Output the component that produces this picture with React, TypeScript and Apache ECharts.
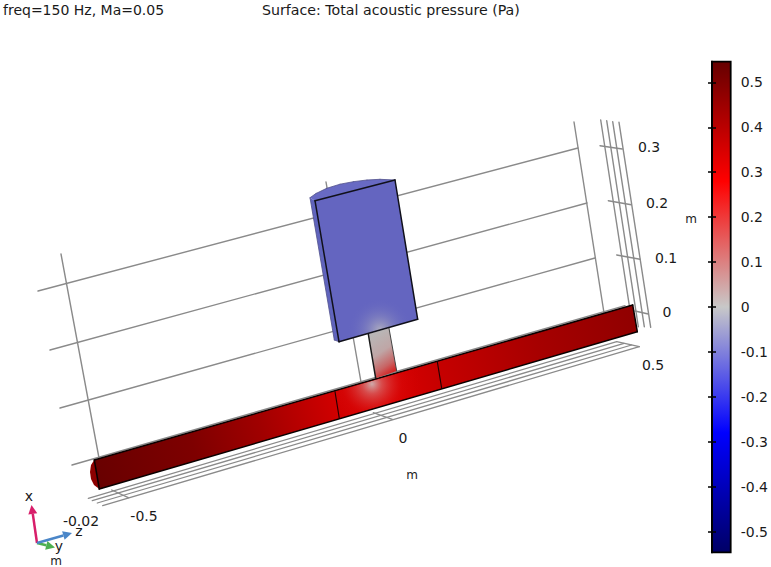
import React, { useEffect, useRef } from "react";
import * as echarts from "echarts";

const WIDTH = 771;
const HEIGHT = 567;

const backWallLines = [
  [38, 291, 578, 148],
  [50, 350, 587, 203],
  [60, 408, 595, 258],
  [72, 465, 625, 305.6],
  [61, 254, 99, 458],
  [574, 122, 604, 313],
  [326, 182, 361, 382],
];
const sideLadderLines = [
  [600.7, 120, 632.3, 325],
  [606.7, 120.7, 638.3, 326.7],
  [612.7, 121.7, 644.3, 326.7],
  [619, 122.3, 650.7, 327.3],
  [600, 145.7, 622.3, 149],
  [608.3, 200.7, 631.3, 204.7],
  [616.7, 255, 640, 259.3],
  [635, 311, 648.3, 314],
];
const floorLadderLines = [
  [88.3, 498.3, 616.7, 341.7],
  [92.3, 500.7, 624, 343.4],
  [97.3, 503, 631.6, 345],
  [102.7, 505.7, 639.3, 346.7],
  [616.7, 341.7, 639.3, 346.7],
  [111.7, 490, 128.3, 497.7],
  [373.3, 412.7, 392.3, 419.3],
];

const ductCap = [[94.3, 460], [91, 465], [90, 472], [91, 479], [94, 485], [99.3, 489]];
const ductBody = [[94.3, 460], [632.7, 305], [637.3, 331.7], [99.3, 489]];
const ductMiddle = [[335, 391.7], [437.3, 361.7], [441.7, 388.3], [339.3, 418.3]];
const neck = [[368.3, 334], [389, 328.3], [396.7, 371], [375.7, 378.3]];
const cylinderSide = [[310, 197.7], [315, 200.7], [339, 341.7], [334.3, 340]];
const cylinderTop = [[310, 197.7], [316, 193.5], [326.7, 188.3], [340, 184.2], [353.3, 181.7], [367, 180], [380, 179.3], [395, 180], [315, 200.7]];
const cylinderFront = [[315, 200.7], [395, 180], [417.7, 319.3], [339, 341.7]];

const edgeLines = [
  [94.3, 460, 632.7, 305],
  [99.3, 489, 637.3, 331.7],
  [94.3, 460, 99.3, 489],
  [632.7, 305, 637.3, 331.7],
];
const sectionLines = [
  [335, 391.7, 339.3, 418.3],
  [437.3, 361.7, 441.7, 388.3],
];
const neckEdges = [
  [368.3, 334, 375.7, 378.3],
];
const neckSoftEdges = [
  [389, 328.3, 396.7, 371],
];
const cylinderEdges = [
  [315, 200.7, 395, 180],
  [395, 180, 417.7, 319.3],
  [417.7, 319.3, 339, 341.7],
  [339, 341.7, 315, 200.7],
];
const cylinderOutline = [
  [310, 197.7, 316, 193.5],
  [316, 193.5, 326.7, 188.3],
  [326.7, 188.3, 340, 184.2],
  [340, 184.2, 353.3, 181.7],
  [353.3, 181.7, 367, 180],
  [367, 180, 380, 179.3],
  [380, 179.3, 395, 180],
  [310, 197.7, 334.3, 340],
  [334.3, 340, 339, 341.7],
];

const ductPositions = [94, 193, 260, 335, 385, 440, 540, 637];
const ductColours = ["#680000", "#7e0000", "#a00000", "#d00000", "#dc0000", "#c60000", "#a60000", "#900000"];

const triadOrigin = [37, 543];
const triadTips = [[31.5, 505], [55, 547.5], [72, 533]];
const triadColours = ["#d81e6a", "#4caf50", "#4a86c8"];

const sceneLabels: [number, number, string][] = [
  [649, 147, "0.3"],
  [657, 203, "0.2"],
  [666, 258, "0.1"],
  [667, 312, "0"],
  [653, 365, "0.5"],
  [403, 438, "0"],
  [144, 516, "-0.5"],
  [81, 521, "-0.02"],
];
const unitLabels: [number, number, string][] = [
  [691, 219, "m"],
  [412, 475, "m"],
  [56, 561, "m"],
];
const triadLabels: [number, number, string][] = [
  [29, 496, "x"],
  [59, 546, "y"],
  [79, 531, "z"],
];

const titleLeft = "freq=150 Hz, Ma=0.05";
const titleRight = "Surface: Total acoustic pressure (Pa)";

const colourbarRange = [-0.546, 0.546];
const colourbarTicks = [-0.5, -0.4, -0.3, -0.2, -0.1, 0, 0.1, 0.2, 0.3, 0.4, 0.5];
const colourbarValues = [0.546, 0.28, 0, -0.28, -0.546];
const colourbarColours = ["#660000", "#ff0000", "#c8c8c8", "#0000ff", "#000066"];

const FONT = '"DejaVu Sans"';

const pts = (api: any, p: number[][]) => p.map((q) => api.coord(q));

function lineSeries(lines: number[][], color: string, width: number) {
  return {
    type: "custom",
    coordinateSystem: "cartesian2d",
    xAxisIndex: 0,
    yAxisIndex: 0,
    silent: true,
    data: lines.map((_, i) => [i, 0]),
    renderItem: (params: any, api: any) => {
      const [x1, y1, x2, y2] = lines[params.dataIndex];
      const a = api.coord([x1, y1]);
      const b = api.coord([x2, y2]);
      return {
        type: "line",
        shape: { x1: a[0], y1: a[1], x2: b[0], y2: b[1] },
        style: { stroke: color, lineWidth: width, fill: "none", lineCap: "round" },
      };
    },
  };
}

function polySeries(points: number[][], fill: any) {
  return {
    type: "custom",
    coordinateSystem: "cartesian2d",
    xAxisIndex: 0,
    yAxisIndex: 0,
    silent: true,
    data: [[0, 0]],
    renderItem: (_p: any, api: any) => ({
      type: "polygon",
      shape: { points: pts(api, points) },
      style: { fill, stroke: "none" },
    }),
  };
}

function textSeries(labels: [number, number, string][], size: number) {
  return {
    type: "custom",
    coordinateSystem: "cartesian2d",
    xAxisIndex: 0,
    yAxisIndex: 0,
    silent: true,
    data: labels.map((_, i) => [i, 0]),
    renderItem: (params: any, api: any) => {
      const [x, y, text] = labels[params.dataIndex];
      const c = api.coord([x, y]);
      return {
        type: "text",
        x: c[0],
        y: c[1],
        style: {
          text,
          fill: "#1a1a1a",
          fontFamily: FONT,
          fontSize: size,
          align: "center",
          verticalAlign: "middle",
        },
      };
    },
  };
}

function radial(x: number, y: number, r: number, stops: [number, string][]) {
  return {
    type: "radial",
    x,
    y,
    r,
    global: true,
    colorStops: stops.map(([offset, color]) => ({ offset, color })),
  };
}

function linear(x: number, y: number, x2: number, y2: number, stops: [number, string][]) {
  return {
    type: "linear",
    x,
    y,
    x2,
    y2,
    global: true,
    colorStops: stops.map(([offset, color]) => ({ offset, color })),
  };
}

const ductSpan = ductPositions[ductPositions.length - 1] - ductPositions[0];
const ductFill = linear(
  94, 475, 637, 318,
  ductPositions.map((p, i) => [(p - ductPositions[0]) / ductSpan, ductColours[i]] as [number, string])
);

function buildOption() {
  const top = colourbarRange[1];
  const span = colourbarRange[1] - colourbarRange[0];
  const barStops = colourbarValues.map((v, i) => ({
    offset: (top - v) / span,
    color: colourbarColours[i],
  }));
  const titleStyle = { fontFamily: FONT, fontSize: 14, fontWeight: "normal", color: "#1a1a1a" };

  return {
    animation: false,
    backgroundColor: "#ffffff",
    title: [
      { text: titleLeft, left: 3, top: 3, padding: 0, textStyle: titleStyle },
      { text: titleRight, left: 262, top: 3, padding: 0, textStyle: { ...titleStyle, fontSize: 14.2 } },
    ],
    grid: [
      { left: 0, top: 0, width: WIDTH, height: HEIGHT },
      { left: 712, top: 61.7, width: 21, height: 490.6 },
    ],
    xAxis: [
      { type: "value", gridIndex: 0, min: 0, max: WIDTH, show: false },
      { type: "value", gridIndex: 1, min: 0, max: 1, show: false },
    ],
    yAxis: [
      { type: "value", gridIndex: 0, min: 0, max: HEIGHT, inverse: true, show: false },
      {
        type: "value",
        gridIndex: 1,
        position: "right",
        min: colourbarRange[0],
        max: colourbarRange[1],
        axisLine: { show: true, lineStyle: { color: "#000", width: 1.8 } },
        axisTick: { show: true, inside: true, length: 4, lineStyle: { color: "#000", width: 1.5 }, customValues: colourbarTicks },
        axisLabel: {
          show: true,
          margin: 10,
          color: "#1a1a1a",
          fontFamily: FONT,
          fontSize: 14,
          customValues: colourbarTicks,
          formatter: (v: number) => String(Math.round(v * 10) / 10),
        },
        splitLine: { show: false },
        z: 5,
      },
      {
        type: "value",
        gridIndex: 1,
        position: "left",
        min: colourbarRange[0],
        max: colourbarRange[1],
        axisLine: { show: true, lineStyle: { color: "#000", width: 1.8 } },
        axisTick: { show: true, inside: true, length: 4, lineStyle: { color: "#000", width: 1.5 }, customValues: colourbarTicks },
        axisLabel: { show: false },
        splitLine: { show: false },
        z: 5,
      },
    ],
    series: [
      lineSeries(backWallLines, "#8a8a8a", 1.4),
      lineSeries(sideLadderLines, "#8a8a8a", 1.4),
      lineSeries(floorLadderLines, "#8a8a8a", 1.3),
      polySeries(ductCap, "#8c0000"),
      polySeries(ductBody, ductFill),
      polySeries(ductMiddle, radial(372, 384, 50, [
        [0, "rgba(205,190,190,0.9)"],
        [0.2, "rgba(214,120,120,0.62)"],
        [0.6, "rgba(220,25,25,0.2)"],
        [1, "rgba(220,0,0,0)"],
      ])),
      lineSeries(sectionLines, "#220000", 1.1),
      lineSeries(edgeLines, "#0a0000", 1.5),
      polySeries(neck, linear(370, 338, 395, 375, [
        [0, "#b9b6b6"],
        [0.4, "#bfa6a6"],
        [0.72, "#c86464"],
        [1, "#da0808"],
      ])),
      lineSeries(neckEdges, "#1a1a1a", 1.5),
      lineSeries(neckSoftEdges, "#444444", 1),
      polySeries(cylinderSide, "#6064bd"),
      polySeries(cylinderTop, "#686ac3"),
      polySeries(cylinderFront, "#6465c0"),
      polySeries(cylinderFront, radial(380, 330, 32, [
        [0, "rgba(186,184,192,0.85)"],
        [0.45, "rgba(150,150,190,0.4)"],
        [1, "rgba(100,101,192,0)"],
      ])),
      lineSeries(cylinderOutline, "#50508c", 0.8),
      lineSeries(cylinderEdges, "#10101a", 1.5),
      {
        type: "custom",
        coordinateSystem: "cartesian2d",
        xAxisIndex: 0,
        yAxisIndex: 0,
        silent: true,
        data: triadTips.map((_, i) => [i, 0]),
        renderItem: (params: any, api: any) => {
          const i = params.dataIndex;
          const o = api.coord(triadOrigin);
          const t = api.coord(triadTips[i]);
          const dx = t[0] - o[0];
          const dy = t[1] - o[1];
          const len = Math.hypot(dx, dy);
          const ux = dx / len;
          const uy = dy / len;
          const bx = t[0] - ux * 9;
          const by = t[1] - uy * 9;
          return {
            type: "group",
            children: [
              {
                type: "line",
                shape: { x1: o[0], y1: o[1], x2: bx, y2: by },
                style: { stroke: triadColours[i], lineWidth: 2.5 },
              },
              {
                type: "polygon",
                shape: {
                  points: [
                    t,
                    [bx - uy * 4.5, by + ux * 4.5],
                    [bx + uy * 4.5, by - ux * 4.5],
                  ],
                },
                style: { fill: triadColours[i] },
              },
            ],
          };
        },
      },
      textSeries(sceneLabels, 14),
      textSeries(triadLabels, 14),
      textSeries(unitLabels, 12),
      {
        type: "custom",
        coordinateSystem: "cartesian2d",
        xAxisIndex: 1,
        yAxisIndex: 1,
        silent: true,
        z: 1,
        data: [[0, 0]],
        renderItem: (_p: any, api: any) => {
          const a = api.coord([0, colourbarRange[1]]);
          const b = api.coord([1, colourbarRange[0]]);
          return {
            type: "rect",
            shape: { x: a[0], y: a[1], width: b[0] - a[0], height: b[1] - a[1] },
            style: {
              fill: { type: "linear", x: 0, y: 0, x2: 0, y2: 1, colorStops: barStops },
              stroke: "#000",
              lineWidth: 1.8,
            },
          };
        },
      },
    ],
  };
}

export default function App() {
  const ref = useRef<HTMLDivElement>(null);
  useEffect(() => {
    document.body.style.margin = "0";
    const chart = echarts.init(ref.current!, undefined, { renderer: "svg" });
    chart.setOption(buildOption() as any);
    return () => chart.dispose();
  }, []);
  return <div ref={ref} style={{ width: WIDTH, height: HEIGHT, opacity: 0.999 }} />;
}
